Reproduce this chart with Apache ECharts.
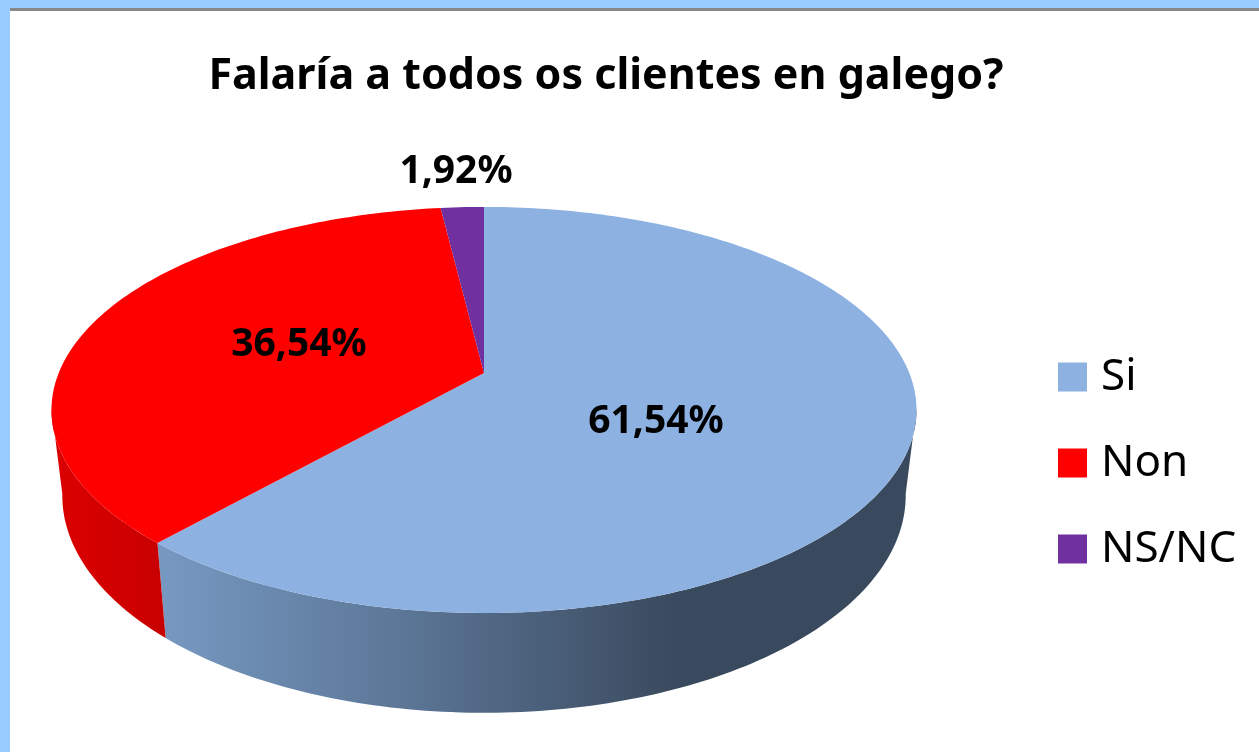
<!DOCTYPE html>
<html>
<head>
<meta charset="utf-8">
<title>Falaría a todos os clientes en galego?</title>
<script src="https://cdn.jsdelivr.net/npm/echarts@6/dist/echarts.min.js"></script>
<style>
  html, body { margin: 0; height: 100%; background: #fff; overflow: hidden; }
  #frame { position: absolute; left: 0; top: 0; width: 1259px; height: 752px; box-sizing: border-box;
           border-left: 10px solid #99ccff; border-top: 8px solid #99ccff; }
  #rule { height: 3px; background: #888; }
  /* the reference is a soft upscaled screenshot */
  #chart { position: absolute; left: 0; top: 0; width: 1259px; height: 752px; filter: blur(0.5px); }
</style>
</head>
<body>
<div id="frame"><div id="rule"></div></div>
<div id="chart"></div>
<script>
// data
const titleText = 'Falaría a todos os clientes en galego?'
const categories = ['Si', 'Non', 'NS/NC']
const values = [61.54, 36.54, 1.92]
const colors = ['#8db1e1', '#ff0000', '#7030a0']

// pie geometry: a circle seen in perspective, so the apex sits above the ellipse centre
const apexX = 484
const apexY = 373
const radiusX = 425.3
const radiusY = 196.3
const tilt = 0.182
// rim at the bottom of the wall, relative to the top face
const wallScaleX = 0.975
const wallScaleY = 1.07
const wallApexY = 456
// the wall is cut where its edge is tangent to both rims, so that edge is the silhouette
const wallFrom = 100
const wallTo = 260

const labelX = [656, 299, 456]
const labelY = [422, 345, 172]

const wallFills = [
  new echarts.graphic.LinearGradient(166, 0, 916, 0, [
    { offset: 0, color: '#7698c0' },
    { offset: 0.3, color: '#5d7899' },
    { offset: 0.68, color: '#3a4a5e' },
    { offset: 1, color: '#3a4a5e' }
  ], true),
  new echarts.graphic.LinearGradient(55, 0, 166, 0, [
    { offset: 0, color: '#dc0000' },
    { offset: 1, color: '#c80000' }
  ], true),
  '#5a2680'
]

const total = values.reduce((a, b) => a + b, 0)

// angle in degrees, clockwise from the top of the pie
const topPoint = (deg) => {
  const a = deg * Math.PI / 180
  const u = Math.sin(a)
  const v = -Math.cos(a)
  const w = 1 - tilt * v
  return [apexX + radiusX * u / w, apexY + radiusY * v / w]
}

const rimPoint = (deg) => {
  const p = topPoint(deg)
  return [apexX + (p[0] - apexX) * wallScaleX, wallApexY + (p[1] - apexY) * wallScaleY]
}

const arc = (fn, from, to) => {
  const pts = []
  const steps = Math.max(2, Math.ceil(Math.abs(to - from)))
  for (let i = 0; i <= steps; i++) {
    pts.push(fn(from + (to - from) * i / steps))
  }
  return pts
}

const renderSlice = (index) => (params, api) => {
  const before = values.slice(0, index).reduce((a, b) => a + b, 0)
  const start = before / total * 360
  const end = (before + api.value(0)) / total * 360
  const children = []

  const wallStart = Math.max(start, wallFrom)
  const wallEnd = Math.min(end, wallTo)
  if (wallEnd > wallStart) {
    children.push({
      type: 'polygon',
      z2: 1,
      shape: { points: arc(topPoint, wallStart, wallEnd).concat(arc(rimPoint, wallEnd, wallStart)) },
      style: { fill: wallFills[index] }
    })
  }
  children.push({
    type: 'polygon',
    z2: 2,
    shape: { points: [[apexX, apexY]].concat(arc(topPoint, start, end)) },
    style: { fill: colors[index] }
  })
  children.push({
    type: 'text',
    z2: 3,
    style: {
      text: api.value(0).toFixed(2).replace('.', ',') + '%',
      x: labelX[index],
      y: labelY[index],
      align: 'center',
      verticalAlign: 'middle',
      fill: '#000',
      font: 'bold 39px "Noto Sans"'
    }
  })
  return { type: 'group', children }
}

const chart = echarts.init(document.getElementById('chart'), null, { renderer: 'canvas' })

chart.setOption({
  animation: false,
  color: colors,
  title: {
    text: titleText,
    left: 601,
    top: 50,
    textAlign: 'center',
    textStyle: { fontFamily: 'Noto Sans', fontSize: 43, fontWeight: 'bold', color: '#000' }
  },
  legend: {
    orient: 'vertical',
    left: 1053,
    top: 350,
    data: categories,
    icon: 'rect',
    itemWidth: 29,
    itemHeight: 29,
    itemGap: 42,
    textStyle: { fontFamily: 'Noto Sans', fontSize: 44, color: '#000', lineHeight: 30, padding: [0, 0, 0, 9] }
  },
  series: categories.map((name, i) => ({
    type: 'custom',
    name,
    coordinateSystem: 'none',
    silent: true,
    itemStyle: { color: colors[i] },
    data: [[values[i]]],
    renderItem: renderSlice(i)
  }))
})

window.addEventListener('resize', () => chart.resize())
</script>
</body>
</html>
